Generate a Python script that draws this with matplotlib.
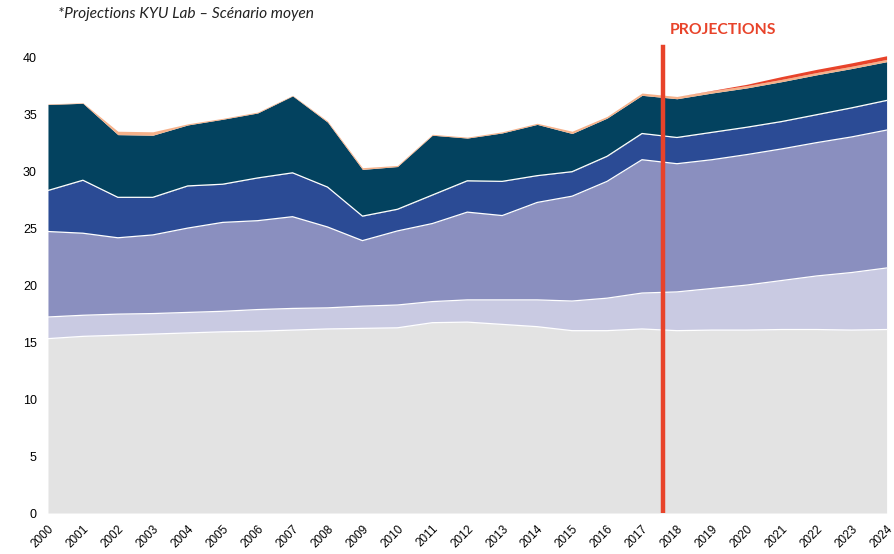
import matplotlib.pyplot as plt
import numpy as np

years = np.arange(2000, 2025)

# stacked layers, bottom to top
layer1 = [15.3, 15.5, 15.6, 15.7, 15.8, 15.9, 15.95, 16.05, 16.15, 16.2, 16.25, 16.7, 16.75,
          16.55, 16.35, 16.0, 16.0, 16.15, 16.0, 16.05, 16.05, 16.1, 16.1, 16.05, 16.1]
layer2 = [1.9, 1.85, 1.85, 1.8, 1.8, 1.8, 1.9, 1.9, 1.85, 1.95, 2.0, 1.85, 1.95,
          2.15, 2.35, 2.6, 2.85, 3.15, 3.4, 3.65, 3.95, 4.3, 4.7, 5.05, 5.4]
layer3 = [7.5, 7.2, 6.7, 6.9, 7.4, 7.8, 7.8, 8.05, 7.1, 5.75, 6.5, 6.85, 7.7,
          7.4, 8.55, 9.2, 10.25, 11.7, 11.25, 11.3, 11.45, 11.55, 11.7, 11.9, 12.1]
layer4 = [3.6, 4.65, 3.55, 3.3, 3.7, 3.35, 3.75, 3.85, 3.5, 2.15, 1.9, 2.5, 2.75,
          3.0, 2.35, 2.15, 2.2, 2.3, 2.3, 2.4, 2.4, 2.4, 2.45, 2.55, 2.6]
layer5 = [7.55, 6.75, 5.5, 5.45, 5.35, 5.7, 5.7, 6.75, 5.7, 4.1, 3.75, 5.25, 3.75,
          4.25, 4.5, 3.35, 3.35, 3.35, 3.4, 3.45, 3.45, 3.5, 3.5, 3.45, 3.4]
layer6 = [0.05, 0.05, 0.3, 0.3, 0.1, 0.08, 0.08, 0.05, 0.1, 0.15, 0.1, 0.08, 0.08,
          0.1, 0.1, 0.2, 0.15, 0.2, 0.2, 0.2, 0.2, 0.2, 0.2, 0.2, 0.2]
layer7 = [0, 0, 0, 0, 0, 0, 0, 0, 0, 0, 0, 0, 0,
          0, 0, 0, 0, 0, 0, 0.03, 0.12, 0.25, 0.28, 0.3, 0.32]

layers = [layer1, layer2, layer3, layer4, layer5, layer6, layer7]
colors = ["#e3e3e3", "#c9cae2", "#8a8fbf", "#2b4b95", "#03425f", "#f5b18a", "#e8432a"]

projection_start = 2017.6
ticks_y = [0, 5, 10, 15, 20, 25, 30, 35, 40]

fig = plt.figure(figsize=(8.95, 5.54), dpi=100)
ax = fig.add_axes([0.0536, 0.074, 0.937, 0.864])

tops = np.cumsum(np.array(layers), axis=0)
bottom = np.zeros(len(years))
for top, c in zip(tops, colors):
    ax.fill_between(years, bottom, top, color=c, linewidth=0)
    bottom = top

# white separators between the main layers
for top in tops[:4]:
    ax.plot(years, top, color="white", linewidth=0.9)

ax.plot([projection_start, projection_start], [0, 40.9], color="#e8432a", linewidth=3.2)
ax.text(projection_start + 0.2, 42.4, "PROJECTIONS", color="#e8432a", fontsize=11.3,
        fontweight="bold", family="Lato", va="center", ha="left")

fig.text(0.065, 0.975, "*Projections KYU Lab \u2013 Sc\u00e9nario moyen", fontsize=11.2,
         style="italic", family="Lato", va="center", ha="left", color="#222222")

ax.set_xlim(2000, 2024)
ax.set_ylim(0, 42)
ax.set_yticks(ticks_y)
ax.set_xticks(years)
ax.set_xticklabels([str(y) for y in years], rotation=45, ha="right",
                   rotation_mode="anchor", fontsize=8.5, family="Liberation Sans")
for lab in ax.get_yticklabels():
    lab.set_family("Liberation Sans")
    lab.set_fontsize(9)
ax.tick_params(axis="both", length=0)
ax.tick_params(axis="x", pad=7)
ax.tick_params(axis="y", pad=8)
for s in ax.spines.values():
    s.set_visible(False)

fig.savefig("out.png", dpi=100)
